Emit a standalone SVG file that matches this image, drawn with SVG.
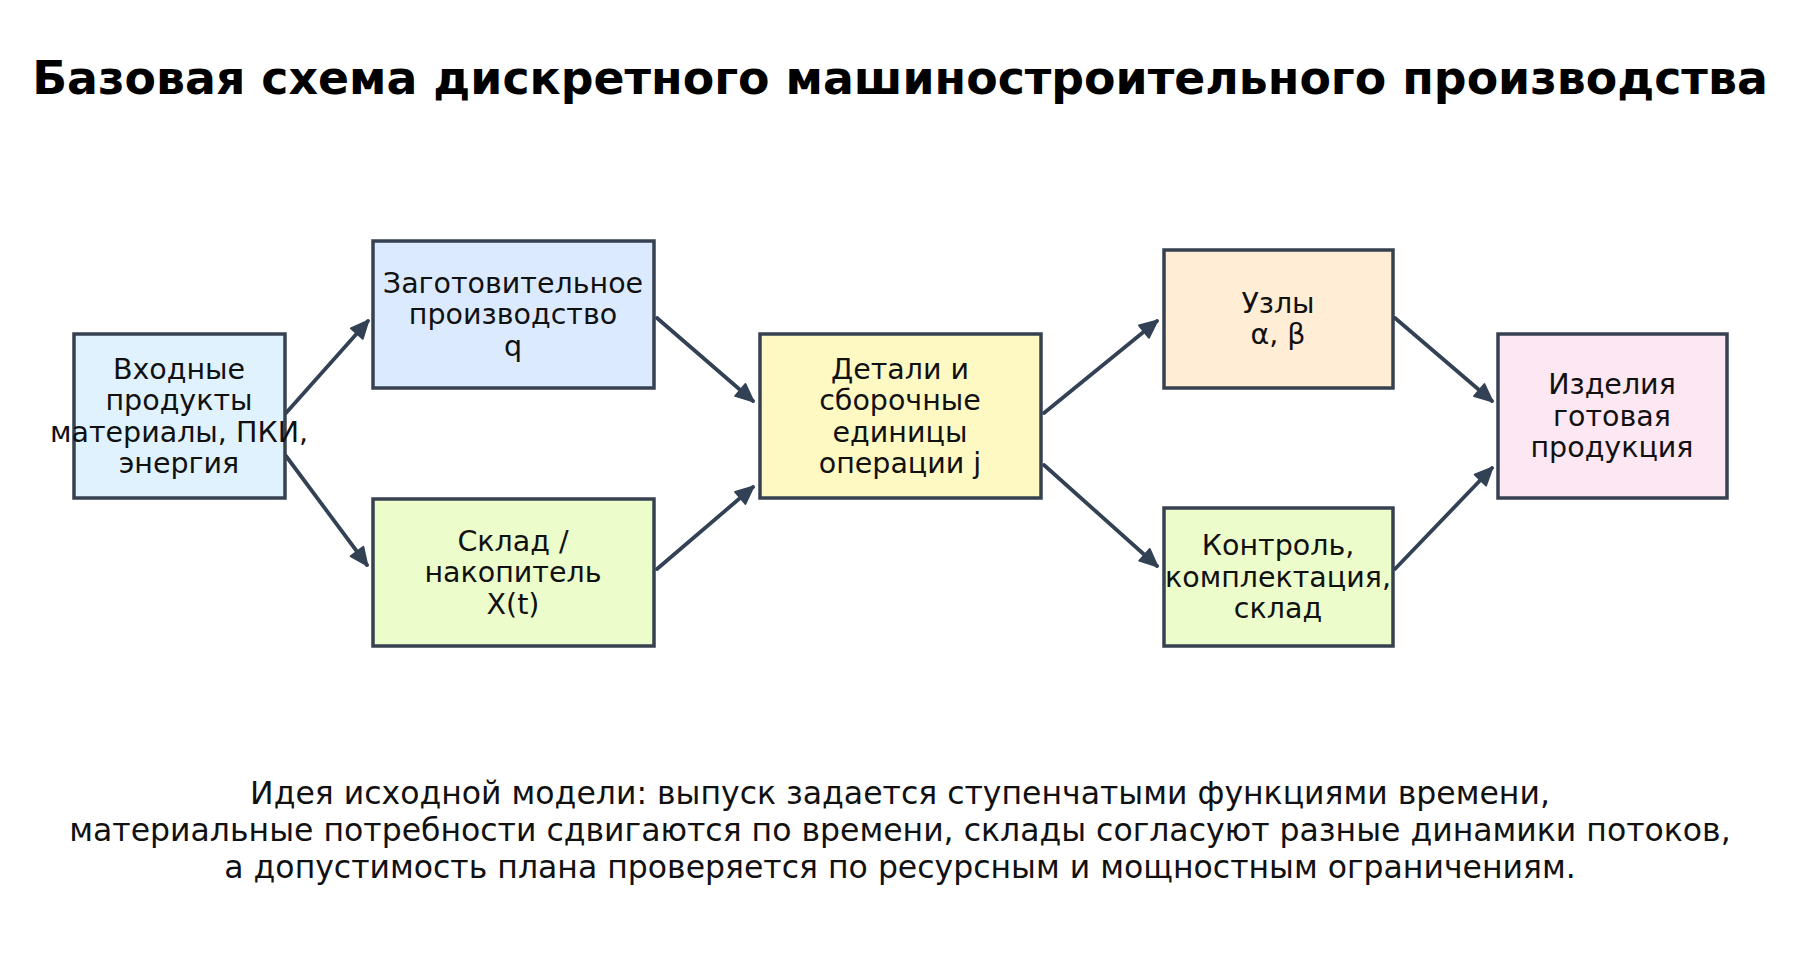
<svg xmlns="http://www.w3.org/2000/svg" width="1800" height="962" viewBox="0 0 1800 962">
<defs>
<marker id="ah" viewBox="-1 -1 12 12" refX="9.5" refY="5" markerWidth="5.6" markerHeight="5.6" orient="auto" markerUnits="strokeWidth">
<path d="M0,0.5 L10,5 L0,9.5 z" fill="#334155" stroke="#334155" stroke-width="1" stroke-linejoin="round"/>
</marker>
<style>
.box{stroke:#374151;stroke-width:3.5}
.t{font-family:"DejaVu Sans",sans-serif;font-size:28.5px;fill:#111;text-anchor:middle}
.title{font-family:"DejaVu Sans",sans-serif;font-size:45.8px;font-weight:bold;fill:#000;text-anchor:middle}
.foot{font-family:"DejaVu Sans",sans-serif;font-size:31.5px;fill:#111;text-anchor:middle}
.c{stroke:#334155;stroke-width:3.8;fill:none;stroke-linecap:round;marker-end:url(#ah)}
</style>
</defs>
<rect width="1800" height="962" fill="#fff"/>
<text class="title" x="900" y="94">Базовая схема дискретного машиностроительного производства</text>
<g id="connectors">
<line class="c" x1="286" y1="413" x2="368" y2="321"/>
<line class="c" x1="286" y1="456" x2="367" y2="565"/>
<line class="c" x1="657" y1="318" x2="753" y2="401"/>
<line class="c" x1="657" y1="569" x2="753" y2="487"/>
<line class="c" x1="1044" y1="413" x2="1157" y2="321"/>
<line class="c" x1="1044" y1="465" x2="1157" y2="566"/>
<line class="c" x1="1395" y1="318" x2="1492" y2="401"/>
<line class="c" x1="1395" y1="569" x2="1492" y2="468"/>
</g>
<g id="input">
<rect class="box" x="74" y="334" width="211" height="164" fill="#e0f2fe"/>
<text class="t" x="179" y="379">Входные</text>
<text class="t" x="179" y="410">продукты</text>
<text class="t" x="179" y="442">материалы, ПКИ,</text>
<text class="t" x="179" y="473">энергия</text>
</g>
<g id="zagot">
<rect class="box" x="373" y="241" width="281" height="147" fill="#dbeafe"/>
<text class="t" x="513" y="293">Заготовительное</text>
<text class="t" x="513" y="324">производство</text>
<text class="t" x="513" y="356">q</text>
</g>
<g id="sklad">
<rect class="box" x="373" y="499" width="281" height="147" fill="#ecfccb"/>
<text class="t" x="513" y="551">Склад /</text>
<text class="t" x="513" y="582">накопитель</text>
<text class="t" x="513" y="614">X(t)</text>
</g>
<g id="detali">
<rect class="box" x="760" y="334" width="281" height="164" fill="#fef9c3"/>
<text class="t" x="900" y="379">Детали и</text>
<text class="t" x="900" y="410">сборочные</text>
<text class="t" x="900" y="442">единицы</text>
<text class="t" x="900" y="473">операции j</text>
</g>
<g id="uzly">
<rect class="box" x="1164" y="250" width="229" height="138" fill="#ffedd5"/>
<text class="t" x="1278" y="313">Узлы</text>
<text class="t" x="1278" y="344">α, β</text>
</g>
<g id="kontrol">
<rect class="box" x="1164" y="508" width="229" height="138" fill="#ecfccb"/>
<text class="t" x="1278" y="555">Контроль,</text>
<text class="t" x="1278" y="587">комплектация,</text>
<text class="t" x="1278" y="618">склад</text>
</g>
<g id="izdeliya">
<rect class="box" x="1498" y="334" width="229" height="164" fill="#fce7f3"/>
<text class="t" x="1612" y="394">Изделия</text>
<text class="t" x="1612" y="426">готовая</text>
<text class="t" x="1612" y="457">продукция</text>
</g>
<g id="footer">
<text class="foot" x="900" y="804">Идея исходной модели: выпуск задается ступенчатыми функциями времени,</text>
<text class="foot" x="900" y="841">материальные потребности сдвигаются по времени, склады согласуют разные динамики потоков,</text>
<text class="foot" x="900" y="878">а допустимость плана проверяется по ресурсным и мощностным ограничениям.</text>
</g>
</svg>
